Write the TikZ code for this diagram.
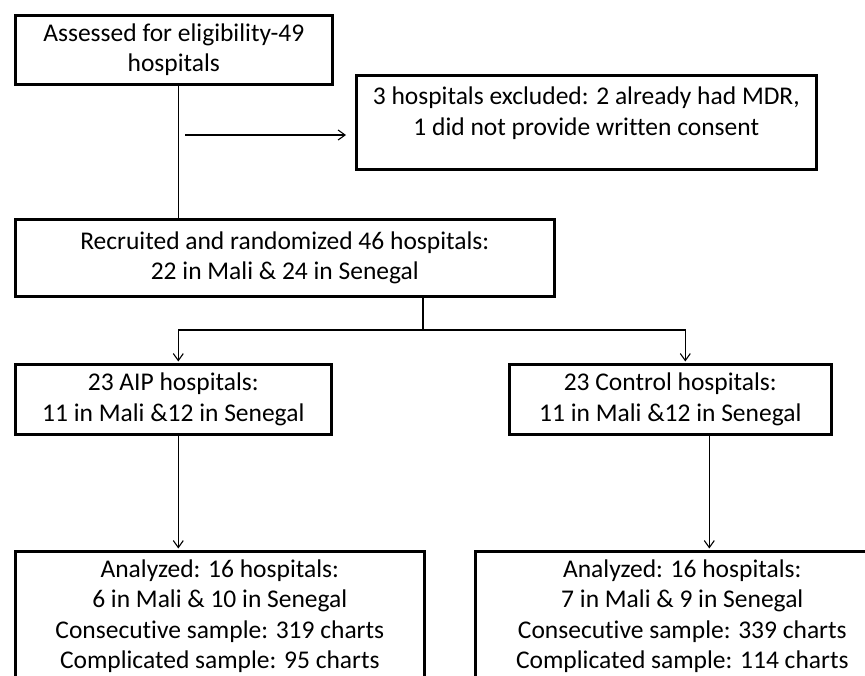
\documentclass[tikz,border=0pt]{standalone}
\usepackage{fontspec}
\setmainfont{Carlito}[Ligatures=NoCommon]
\usetikzlibrary{arrows.meta,calc}
\tikzset{box/.style={draw=black,fill=white,line width=2.6pt,align=center,inner sep=0pt,anchor=north west,font=\fontsize{25.5}{30.5}\selectfont},arr/.style={-{Straight Barb[length=7pt,width=10pt]},draw=black,line width=1.1pt},link/.style={draw=black,line width=1.1pt}}

\begin{document}
\begin{tikzpicture}[x=1pt,y=-1pt]

\clip (0,0) rectangle (865,675);
\fill[white] (0,0) rectangle (865,675);
\node[box,minimum width=317pt,minimum height=69pt] (assess) at (14,14) {Assessed for eligibility-49\\hospitals};
\node[box,minimum width=460pt,minimum height=94pt] (excl) at (355,74) {3 hospitals excluded: 2 already had MDR,\\1 did not provide written consent\\[-8pt]\mbox{}};
\node[box,minimum width=539pt,minimum height=77pt] (recruit) at (14,218) {Recruited and randomized 46 hospitals:\\22 in Mali \& 24 in Senegal};
\node[box,minimum width=316pt,minimum height=70pt] (aip) at (14,363) {23 AIP hospitals:\\11 in Mali \&12 in Senegal};
\node[box,minimum width=322pt,minimum height=70pt] (ctrl) at (508,363) {23 Control hospitals:\\11 in Mali \&12 in Senegal};
\node[box,minimum width=409pt,minimum height=130pt] (anaaip) at (14,550) {Analyzed: 16 hospitals:\\6 in Mali \& 10 in Senegal\\Consecutive sample: 319 charts\\Complicated sample: 95 charts};
\node[box,minimum width=414pt,minimum height=130pt] (anactrl) at (474,550) {Analyzed: 16 hospitals:\\7 in Mali \& 9 in Senegal\\Consecutive sample: 339 charts\\Complicated sample: 114 charts};
\coordinate (split) at (185,135);
\coordinate (fork) at (423,330);
\draw[link] ([xshift=5pt]assess.south)--([xshift=5pt]assess.south|-recruit.north);
\draw[arr,shorten >=9pt] (split)--(split-|excl.west);
\draw[link] (recruit.south-|fork)--(fork);
\draw[arr,shorten >=1.5pt] (fork)-|([xshift=5pt]aip.north); \draw[arr,shorten >=1.5pt] (fork)-|([xshift=15pt]ctrl.north);
\draw[arr,shorten >=1.5pt] ([xshift=5pt]aip.south)--([xshift=5pt]aip.south|-anaaip.north);
\draw[arr,shorten >=1.5pt] ([xshift=39pt]ctrl.south)--([xshift=39pt]ctrl.south|-anactrl.north);
\end{tikzpicture}
\end{document}
